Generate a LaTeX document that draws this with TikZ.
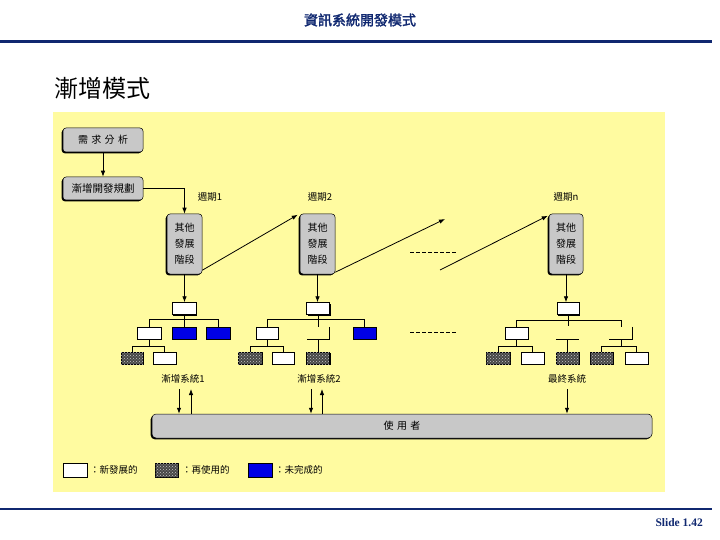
\documentclass[tikz,border=0pt]{standalone}
\usepackage{fontspec}
\setmainfont{Liberation Serif}
\newfontfamily\cjk{Noto Sans CJK TC}
\newfontfamily\cjkb{Noto Sans CJK TC}[FakeBold=2]
\usetikzlibrary{arrows.meta,shadows,patterns,calc}
\definecolor{panel}{RGB}{255,251,160}
\definecolor{navy}{RGB}{16,40,112}
\definecolor{boxgray}{RGB}{200,200,200}
\definecolor{fillblue}{RGB}{0,0,230}
\begin{document}
\begin{tikzpicture}[x=1pt,y=-1pt,
  every node/.style={inner sep=0pt, font=\cjk\fontsize{10}{12}\selectfont},
  arr/.style={-{Latex[length=6pt,width=4.5pt]}, line width=0.8pt},
  ln/.style={line width=0.7pt},
  shd/.style={line width=1pt},
  leaf/.style={draw, line width=0.4pt, minimum width=#1, minimum height=12pt,
    drop shadow={shadow xshift=1.3pt, shadow yshift=-1.3pt, fill=black, opacity=1}},
  wbox/.style={leaf=#1, fill=white}, wbox/.default=23pt,
  bbox/.style={leaf=#1, fill=fillblue}, bbox/.default=24pt,
  hbox/.style={leaf=#1, fill=black!72, postaction={pattern=crosshatch dots, pattern color=gray!45}}, hbox/.default=23pt,
  ghost/.style={minimum width=#1, minimum height=12pt}, ghost/.default=23pt,
  gbox/.style={draw, line width=0.5pt, fill=boxgray, rounded corners=3pt,
    drop shadow={shadow xshift=-1.3pt, shadow yshift=-1.3pt, fill=black, opacity=1}},
  phase/.style={gbox, minimum width=35pt, minimum height=60pt, align=center,
    font=\cjk\fontsize{10}{16}\selectfont},
  lab/.style={font=\cjk\fontsize{9.5}{11}\selectfont}
]
\useasboundingbox (0,0) rectangle (720,540);
% page frame
\node[font=\cjkb\fontsize{14}{16}\selectfont, text=navy] (title) at (360,20) {資訊系統開發模式};
\draw[navy, line width=3pt] (0,41.5) -- (712,41.5);
\draw[navy, line width=2.5pt] (0,509) -- (712,509);
\node[font=\rmfamily\bfseries\fontsize{11.5}{13}\selectfont, text=navy, anchor=east] (slide) at (703,523) {Slide 1.42};
\node[font=\cjk\fontsize{24}{27}\selectfont, anchor=west] (head) at (54,88) {漸增模式};
% panel
\fill[panel] (53,112) rectangle (665,492);
% planning
\node[gbox, minimum width=80pt, minimum height=24pt] (req) at (103,140) {需\,\,求\,\,分\,\,析};
\node[gbox, minimum width=80pt, minimum height=23pt, font=\cjk\fontsize{10.5}{12}\selectfont] (plan) at (103,188.5) {漸增開發規劃};
\draw[arr] (req.south) -- (plan.north);
% phases
\node[phase] (p1) at (184.5,244) {其他\\發展\\階段};
\node[phase] (p2) at (317.5,244) {其他\\發展\\階段};
\node[phase, minimum width=34pt] (pn) at (566,244) {其他\\發展\\階段};
\draw[arr] (plan.east) -| (p1.north);
\node[lab] (c1) at (210,197) {週期1};
\node[lab] (c2) at (320,197) {週期2};
\node[lab] (cn) at (566,197) {週期n};
\draw[arr] ($(p1.south east)+(0,-4)$) -- ($(p2.north west)+(-2,1)$);
\coordinate (e2) at (445,219);
\draw[arr] ($(p2.south east)+(0,-2)$) -- (e2);
\coordinate (sn) at (440,270);
\draw[arr] (sn) -- ($(pn.north west)+(-1,2)$);
\coordinate (d1a) at (410,252); \coordinate (d1b) at (457,252);
\coordinate (d2a) at (410,332); \coordinate (d2b) at (457,332);
\draw[line width=0.6pt, dash pattern=on 4pt off 2pt] (d1a) -- (d1b);
\draw[line width=0.6pt, dash pattern=on 4pt off 2pt] (d2a) -- (d2b);
% tree 1
\node[wbox=24pt] (r1) at (184,308.5) {};
\node[wbox=24pt] (c11) at (149,333) {};
\node[bbox] (c12) at (184,333) {};
\node[bbox] (c13) at (218,333) {};
\node[hbox=22pt] (g11) at (132,358) {};
\node[wbox] (g12) at (164.5,358) {};
\draw[arr] (p1.south) -- (p1.south |- r1.north);
\draw[ln] (r1.south) -- (c12.north);
\draw[ln] (c11.north) -- ++(0,-7) -| (c13.north);
\draw[ln] (c11.south) -- ++(0,8);
\draw[ln] (g11.north) -- ++(0,-5) -| (g12.north);
% tree 2
\node[wbox] (r2) at (318,308.5) {};
\node[wbox=22pt] (c21) at (267,333) {};
\node[ghost=22pt] (c22) at (318,333) {};
\node[bbox=23pt] (c23) at (364.5,333) {};
\node[hbox=24pt] (g21) at (250,358) {};
\node[wbox=22pt] (g22) at (283,358) {};
\node[hbox] (g23) at (318,358) {};
\draw[arr] (p2.south) -- (p2.south |- r2.north);
\draw[ln] (r2.south) -- (c22.north);
\draw[ln] (c21.north) -- ++(0,-7) -| (c23.north);
\draw[shd] (c22.north east) -- (c22.south east) -- (c22.south west);
\draw[ln] (c21.south) -- ++(0,8);
\draw[ln] (g21.north) -- ++(0,-5) -| (g22.north);
\draw[ln] (c22.south) -- (g23.north);
% tree n
\node[wbox=22pt] (rn) at (568,308.5) {};
\node[wbox] (cn1) at (516.5,333) {};
\node[ghost] (cn2) at (567.5,333) {};
\node[ghost] (cn3) at (621,333) {};
\node[hbox=24pt] (gn1) at (498,358) {};
\node[wbox] (gn2) at (532.5,358) {};
\node[hbox] (gn3) at (567.5,358) {};
\node[hbox] (gn4) at (601.5,358) {};
\node[wbox] (gn5) at (636.5,358) {};
\draw[arr] (pn.south) -- (pn.south |- rn.north);
\draw[ln] (rn.south) -- ++(0,11);
\draw[ln] (cn1.north) -- ++(0,-6) -| (cn3.north);
\draw[shd] (cn2.south west) -- (cn2.south east);
\draw[shd] (cn3.north east) -- (cn3.south east) -- (cn3.south west);
\draw[ln] (cn1.south) -- ++(0,8);
\draw[ln] (gn1.north) -- ++(0,-5) -| (gn2.north);
\draw[ln] (cn2.south) -- (gn3.north);
\draw[ln] (cn3.south) -- ++(0,8);
\draw[ln] (gn4.north) -- ++(0,-5) -| (gn5.north);
% systems
\node[lab] (s1) at (183,379) {漸增系統1};
\node[lab] (s2) at (319,379) {漸增系統2};
\node[lab] (sf) at (567,379) {最終系統};
\node[gbox, minimum width=500pt, minimum height=24pt, rounded corners=4pt] (user) at (402,426) {使\,\,用\,\,者};
\coordinate (a1) at (179,389); \coordinate (b1) at (191,389);
\coordinate (a2) at (311,389); \coordinate (b2) at (322,389);
\coordinate (af) at (567,389);
\draw[arr] (a1) -- (a1 |- user.north);
\draw[arr] (b1 |- user.north) -- (b1);
\draw[arr] (a2) -- (a2 |- user.north);
\draw[arr] (b2 |- user.north) -- (b2);
\draw[arr] (af) -- (af |- user.north);
% legend
\node[wbox=24pt, minimum height=14pt] (lw) at (75,470) {};
\node[lab, anchor=west] (tw) at (90,470) {：新發展的};
\node[hbox, minimum height=14pt] (lh) at (166.5,470) {};
\node[lab, anchor=west] (th) at (182,470) {：再使用的};
\node[bbox, minimum height=14pt] (lb) at (260,470) {};
\node[lab, anchor=west] (tb) at (275,470) {：未完成的};
\end{tikzpicture}
\end{document}
